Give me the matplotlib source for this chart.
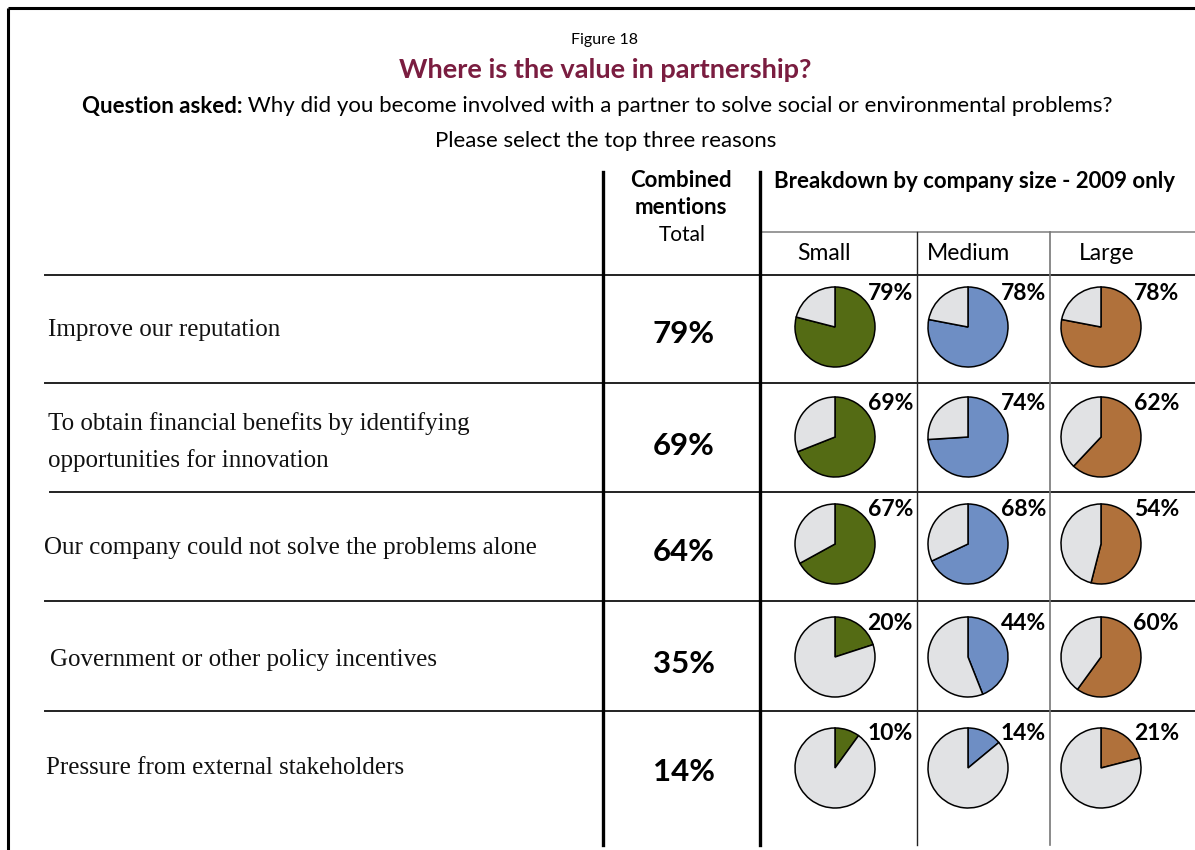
import numpy as np
import matplotlib
matplotlib.use('Agg')
import matplotlib.pyplot as plt

# ---------------------------------------------------------------
# Data
# ---------------------------------------------------------------
reasons = [
    'Improve our reputation',
    'To obtain financial benefits by identifying\nopportunities for innovation',
    'Our company could not solve the problems alone',
    'Government or other policy incentives',
    'Pressure from external stakeholders',
]
combined_total = [79, 69, 64, 35, 14]
sizes = ['Small', 'Medium', 'Large']
small_pct = [79, 69, 67, 20, 10]
medium_pct = [78, 74, 68, 44, 14]
large_pct = [78, 62, 54, 60, 21]

size_colors = ['#546b14', '#6e8ec4', '#b0713b']
rest_color = '#e1e2e4'
title_color = '#7a1d40'

W, H = 1195, 850
SANS = ['Lato', 'DejaVu Sans']
SERIF = ['Liberation Serif', 'DejaVu Serif']


def Y(y):
    # image pixel row -> data y (bottom up)
    return H - y


fig = plt.figure(figsize=(W / 100, H / 100), dpi=100)
ax = fig.add_axes([0, 0, 1, 1])

# outer frame (left + top)
ax.plot([8, 8], [Y(8), Y(852)], color='black', lw=2.2, solid_capstyle='butt')
ax.plot([8, W + 2], [Y(8), Y(8)], color='black', lw=2.2, solid_capstyle='butt')

# titles
ax.text(605, Y(40), 'Figure 18', ha='center', va='center', fontsize=11.5,
        family=SANS)
ax.text(605, Y(70), 'Where is the value in partnership?', ha='center',
        va='center', fontsize=19.5, fontweight='bold', color=title_color,
        family=SANS)
t1 = ax.text(82, Y(106), 'Question asked:', ha='left', va='center',
             fontsize=16, fontweight='bold', family=SANS)
ax.annotate(' Why did you become involved with a partner to solve social or environmental problems?',
            xycoords=t1, xy=(1, 0.5), ha='left', va='center', fontsize=16,
            family=SANS)
ax.text(606, Y(141), 'Please select the top three reasons', ha='center',
        va='center', fontsize=16, family=SANS)

# column headers
ax.text(681, Y(194), 'Combined\nmentions', ha='center', va='center',
        fontsize=16, fontweight='bold', family=SANS, linespacing=1.3)
ax.text(682, Y(235), 'Total', ha='center', va='center', fontsize=15,
        family=SANS)
ax.text(975, Y(181), 'Breakdown by company size - 2009 only', ha='center',
        va='center', fontsize=16, fontweight='bold', family=SANS)
size_x = [835, 968, 1101]
header_x = [824, 969, 1107]
for name, hx in zip(sizes, header_x):
    ax.text(hx, Y(253), name, ha='center', va='center', fontsize=16.5,
            family=SANS)

# grid lines
row_lines = [275, 383, 492, 601, 711]
row_starts = [45, 45, 50, 45, 45]
for yl, xs in zip(row_lines, row_starts):
    ax.plot([xs, W], [Y(yl), Y(yl)], color='#222222', lw=1.4)
ax.plot([760, W], [Y(232), Y(232)], color='#888888', lw=1.2)
ax.plot([603, 603], [Y(172), Y(845)], color='black', lw=2.4)
ax.plot([760, 760], [Y(172), Y(845)], color='black', lw=2.4)
ax.plot([917, 917], [Y(232), Y(845)], color='#222222', lw=1.0)
ax.plot([1050, 1050], [Y(232), Y(845)], color='#777777', lw=1.2)

# rows
row_cy = [327, 437, 544, 657, 768]
label_y = [330, 442, 548, 660, 768]
label_x = [48, 48, 44, 50, 46]
for i, reason in enumerate(reasons):
    ax.text(label_x[i], Y(label_y[i]), reason, ha='left', va='center',
            fontsize=18, family=SERIF, linespacing=1.75, color='#111111')
    ax.text(684, Y(label_y[i] + 4), f'{combined_total[i]}%', ha='center',
            va='center', fontsize=22.5, fontweight='bold', family=SANS)
    for j, vals in enumerate([small_pct, medium_pct, large_pct]):
        v = vals[i]
        cx, cy = size_x[j], Y(row_cy[i])
        ax.pie([v, 100 - v], colors=[size_colors[j], rest_color],
               startangle=90, counterclock=False, center=(cx, cy),
               radius=40, frame=True,
               wedgeprops=dict(edgecolor='black', linewidth=1.1))
        ax.text(cx + 78, Y(row_cy[i] - 34), f'{v}%', ha='right',
                va='center', fontsize=16.5, fontweight='bold', family=SANS)

ax.set_xlim(0, W)
ax.set_ylim(0, H)
ax.set_aspect('auto')
ax.axis('off')

plt.savefig('out.png', dpi=100)
